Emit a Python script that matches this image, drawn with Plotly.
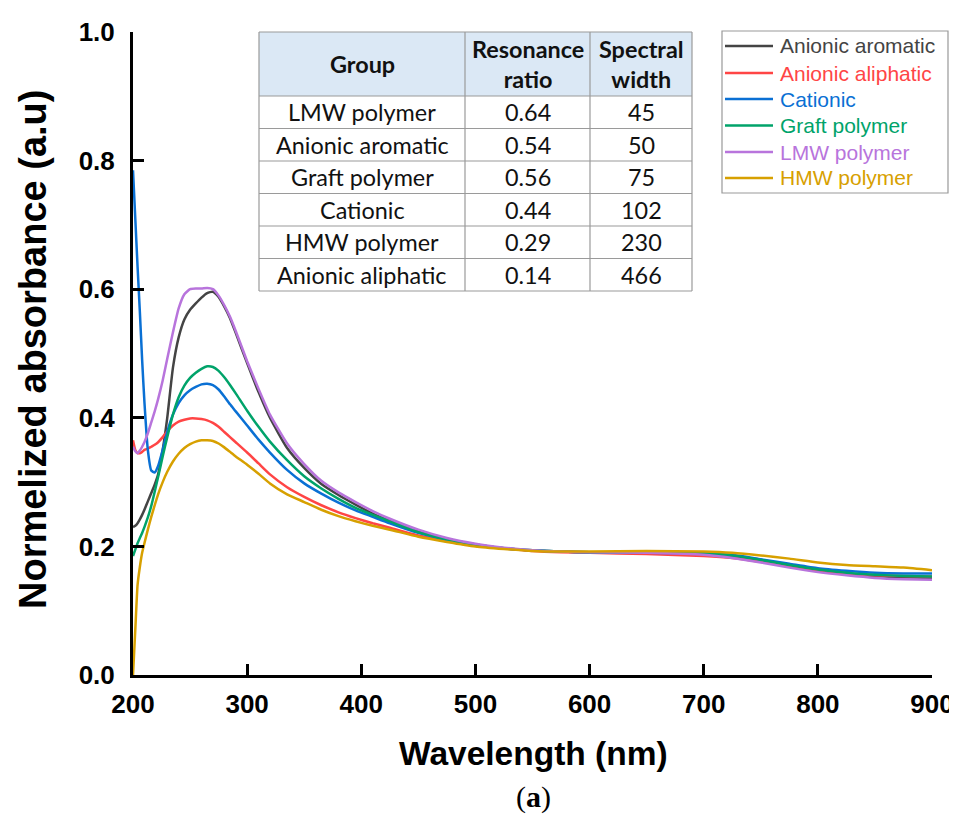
import plotly.graph_objects as go

# ---------------- data ----------------
wavelength = [200, 202, 204, 206, 208, 210, 213, 216, 219, 222, 226, 230, 235, 240, 245, 250, 255, 260,
              265, 270, 275, 280, 285, 290, 300, 310, 320, 335, 350, 365, 380, 395, 410, 425, 450, 475,
              500, 525, 550, 575, 600, 650, 700, 725, 750, 775, 800, 825, 850, 875, 900]

anionic_aromatic = [0.230, 0.232, 0.236, 0.242, 0.249, 0.257, 0.270, 0.283, 0.296, 0.312, 0.350, 0.400, 0.478,
                    0.525, 0.553, 0.568, 0.578, 0.587, 0.594, 0.596, 0.588, 0.573, 0.555, 0.532, 0.485, 0.440,
                    0.400, 0.353, 0.322, 0.297, 0.280, 0.265, 0.251, 0.240, 0.223, 0.211, 0.203, 0.197, 0.194,
                    0.192, 0.191, 0.190, 0.188, 0.184, 0.177, 0.169, 0.162, 0.157, 0.154, 0.152, 0.151]

anionic_aliphatic = [0.365, 0.350, 0.345, 0.345, 0.347, 0.350, 0.352, 0.355, 0.358, 0.362, 0.370, 0.379, 0.388,
                     0.394, 0.397, 0.399, 0.399, 0.398, 0.396, 0.392, 0.386, 0.378, 0.370, 0.362, 0.346, 0.329,
                     0.312, 0.292, 0.277, 0.264, 0.253, 0.244, 0.236, 0.229, 0.217, 0.208, 0.201, 0.197, 0.193,
                     0.191, 0.190, 0.188, 0.185, 0.182, 0.176, 0.169, 0.163, 0.158, 0.155, 0.154, 0.153]

cationic = [0.785, 0.710, 0.635, 0.565, 0.490, 0.425, 0.350, 0.318, 0.315, 0.325, 0.350, 0.378, 0.405,
            0.423, 0.435, 0.443, 0.448, 0.452, 0.453, 0.451, 0.444, 0.433, 0.421, 0.410, 0.388, 0.366,
            0.346, 0.319, 0.298, 0.282, 0.268, 0.256, 0.246, 0.236, 0.221, 0.210, 0.202, 0.197, 0.194,
            0.192, 0.191, 0.190, 0.189, 0.187, 0.180, 0.173, 0.166, 0.162, 0.159, 0.158, 0.158]

graft_polymer = [0.185, 0.195, 0.205, 0.213, 0.221, 0.230, 0.245, 0.263, 0.285, 0.308, 0.340, 0.370, 0.405,
                 0.432, 0.450, 0.462, 0.470, 0.476, 0.480, 0.479, 0.473, 0.463, 0.451, 0.438, 0.411, 0.386,
                 0.363, 0.334, 0.309, 0.290, 0.274, 0.260, 0.249, 0.239, 0.222, 0.211, 0.203, 0.197, 0.194,
                 0.192, 0.191, 0.191, 0.190, 0.186, 0.179, 0.171, 0.164, 0.159, 0.156, 0.154, 0.153]

lmw_polymer = [0.355, 0.348, 0.345, 0.349, 0.355, 0.362, 0.376, 0.393, 0.410, 0.429, 0.458, 0.492, 0.533,
               0.570, 0.592, 0.600, 0.601, 0.601, 0.602, 0.600, 0.590, 0.575, 0.557, 0.535, 0.488, 0.445,
               0.405, 0.360, 0.328, 0.302, 0.284, 0.269, 0.255, 0.243, 0.226, 0.213, 0.204, 0.198, 0.194,
               0.192, 0.191, 0.190, 0.187, 0.182, 0.175, 0.167, 0.160, 0.155, 0.151, 0.149, 0.148]

hmw_polymer = [0.000, 0.070, 0.140, 0.168, 0.190, 0.205, 0.226, 0.246, 0.264, 0.281, 0.300, 0.316, 0.332,
               0.344, 0.353, 0.359, 0.363, 0.365, 0.365, 0.364, 0.360, 0.354, 0.347, 0.340, 0.327, 0.313,
               0.298, 0.281, 0.269, 0.257, 0.247, 0.239, 0.232, 0.226, 0.215, 0.207, 0.200, 0.196, 0.193,
               0.192, 0.192, 0.193, 0.192, 0.190, 0.186, 0.181, 0.175, 0.171, 0.169, 0.167, 0.163]

series_names = ["Anionic aromatic", "Anionic aliphatic", "Cationic", "Graft polymer", "LMW polymer", "HMW polymer"]
series_values = [anionic_aromatic, anionic_aliphatic, cationic, graft_polymer, lmw_polymer, hmw_polymer]
series_colors = ["#444444", "#ff4545", "#0a70d4", "#00a36a", "#b874dc", "#d7a000"]

# table content
table_header = ["Group", "Resonance<br>ratio", "Spectral<br>width"]
table_groups = ["LMW polymer", "Anionic aromatic", "Graft polymer", "Cationic", "HMW polymer", "Anionic aliphatic"]
table_ratio = ["0.64", "0.54", "0.56", "0.44", "0.29", "0.14"]
table_width = ["45", "50", "75", "102", "230", "466"]

x_ticks = [200, 300, 400, 500, 600, 700, 800, 900]
y_ticks = [0.0, 0.2, 0.4, 0.6, 0.8, 1.0]

# ---------------- layout helpers (screen pixel -> paper) ----------------
# page body has an 8px margin; the figure starts at screen (8, 8)
W, H = 949, 810
ML, MT = 125, 24
PW, PH = 799, 643
MR = W - ML - PW
MB = H - MT - PH
SX0, SY1 = 133, 675  # screen position of plot left / bottom


def px(p):
    return (p - SX0) / PW


def py(p):
    return (SY1 - p) / PH


fig = go.Figure()
for name, vals, col in zip(series_names, series_values, series_colors):
    fig.add_trace(go.Scatter(x=wavelength, y=vals, mode="lines", name=name,
                             line=dict(color=col, width=2.5, shape="spline", smoothing=0.5),
                             showlegend=False))

shapes = []
annots = []

# ---- table ----
col_x = [259, 465, 590, 692]
row_y = [32, 96, 128.5, 161, 193.5, 226, 258.5, 291]
border = "#9a9a9a"
shapes.append(dict(type="rect", xref="paper", yref="paper", x0=px(col_x[0]), x1=px(col_x[-1]),
                   y0=py(row_y[1]), y1=py(row_y[0]), fillcolor="#dbe8f5", line=dict(width=0), layer="above"))
shapes.append(dict(type="rect", xref="paper", yref="paper", x0=px(col_x[0]), x1=px(col_x[-1]),
                   y0=py(row_y[-1]), y1=py(row_y[1]), fillcolor="white", line=dict(width=0), layer="above"))
for yy in row_y:
    shapes.append(dict(type="line", xref="paper", yref="paper", x0=px(col_x[0]), x1=px(col_x[-1]),
                       y0=py(yy), y1=py(yy), line=dict(color=border, width=1.2), layer="above"))
for xx in col_x:
    shapes.append(dict(type="line", xref="paper", yref="paper", x0=px(xx), x1=px(xx),
                       y0=py(row_y[0]), y1=py(row_y[-1]), line=dict(color=border, width=1.2), layer="above"))

tfont = dict(family="Lato, Open Sans, sans-serif", size=23.4, color="#111111")
for j, htxt in enumerate(table_header):
    annots.append(dict(xref="paper", yref="paper", x=px((col_x[j] + col_x[j + 1]) / 2),
                       y=py((row_y[0] + row_y[1]) / 2), text=htxt, showarrow=False,
                       font=dict(tfont, weight="bold"), xanchor="center", yanchor="middle"))
for i in range(len(table_groups)):
    yc = py((row_y[i + 1] + row_y[i + 2]) / 2)
    for j, txt in enumerate([table_groups[i], table_ratio[i], table_width[i]]):
        annots.append(dict(xref="paper", yref="paper", x=px((col_x[j] + col_x[j + 1]) / 2), y=yc,
                           text=txt, showarrow=False, font=tfont, xanchor="center", yanchor="middle"))

# ---- legend (manual) ----
leg_rows = [46, 73, 99, 125.5, 152, 178]
shapes.append(dict(type="rect", xref="paper", yref="paper", x0=px(722), x1=px(948), y0=py(193), y1=py(31),
                   fillcolor="white", line=dict(color="#999999", width=1.2), layer="above"))
for name, col, yy in zip(series_names, series_colors, leg_rows):
    shapes.append(dict(type="line", xref="paper", yref="paper", x0=px(725), x1=px(773), y0=py(yy), y1=py(yy),
                       line=dict(color=col, width=2.5), layer="above"))
    annots.append(dict(xref="paper", yref="paper", x=px(778), y=py(yy), text=name, showarrow=False,
                       font=dict(family="Liberation Sans, Arial, sans-serif", size=21, color=col),
                       xanchor="left", yanchor="middle"))

# ---- axis titles & caption ----
annots.append(dict(xref="paper", yref="paper", x=px(33), y=py(350), text="Normelized absorbance (a.u)",
                   textangle=-90, showarrow=False, xanchor="center", yanchor="middle",
                   font=dict(family="Liberation Sans, Arial, sans-serif", size=38, color="black", weight="bold")))
annots.append(dict(xref="paper", yref="paper", x=px(533), y=py(753), text="Wavelength (nm)",
                   showarrow=False, xanchor="center", yanchor="middle",
                   font=dict(family="Liberation Sans, Arial, sans-serif", size=33.5, color="black", weight="bold")))
annots.append(dict(xref="paper", yref="paper", x=px(533), y=py(797), text="(<b>a</b>)",
                   showarrow=False, xanchor="center", yanchor="middle",
                   font=dict(family="Liberation Serif, Times New Roman, serif", size=30, color="black")))

tick_font = dict(family="Liberation Sans, Arial, sans-serif", size=26, color="black", weight="bold")
fig.update_layout(
    width=W, height=H, margin=dict(l=ML, r=MR, t=MT, b=MB, autoexpand=False),
    paper_bgcolor="white", plot_bgcolor="white",
    shapes=shapes, annotations=annots,
    xaxis=dict(range=[200, 900], tickvals=x_ticks, ticktext=[str(v) for v in x_ticks],
               showgrid=False, zeroline=False, showline=True, linecolor="black", linewidth=3,
               ticks="inside", ticklen=11, tickwidth=2.5, tickcolor="black", tickfont=tick_font,
               ticklabelstandoff=4, automargin=False, ticklabeloverflow="allow"),
    yaxis=dict(range=[0, 1.0], tickvals=y_ticks, ticktext=[f"{v:.1f}" for v in y_ticks],
               showgrid=False, zeroline=False, showline=True, linecolor="black", linewidth=3,
               ticks="inside", ticklen=11, tickwidth=2.5, tickcolor="black", tickfont=tick_font,
               ticklabelstandoff=10, automargin=False, ticklabeloverflow="allow"),
)

fig.write_html("out.html")
